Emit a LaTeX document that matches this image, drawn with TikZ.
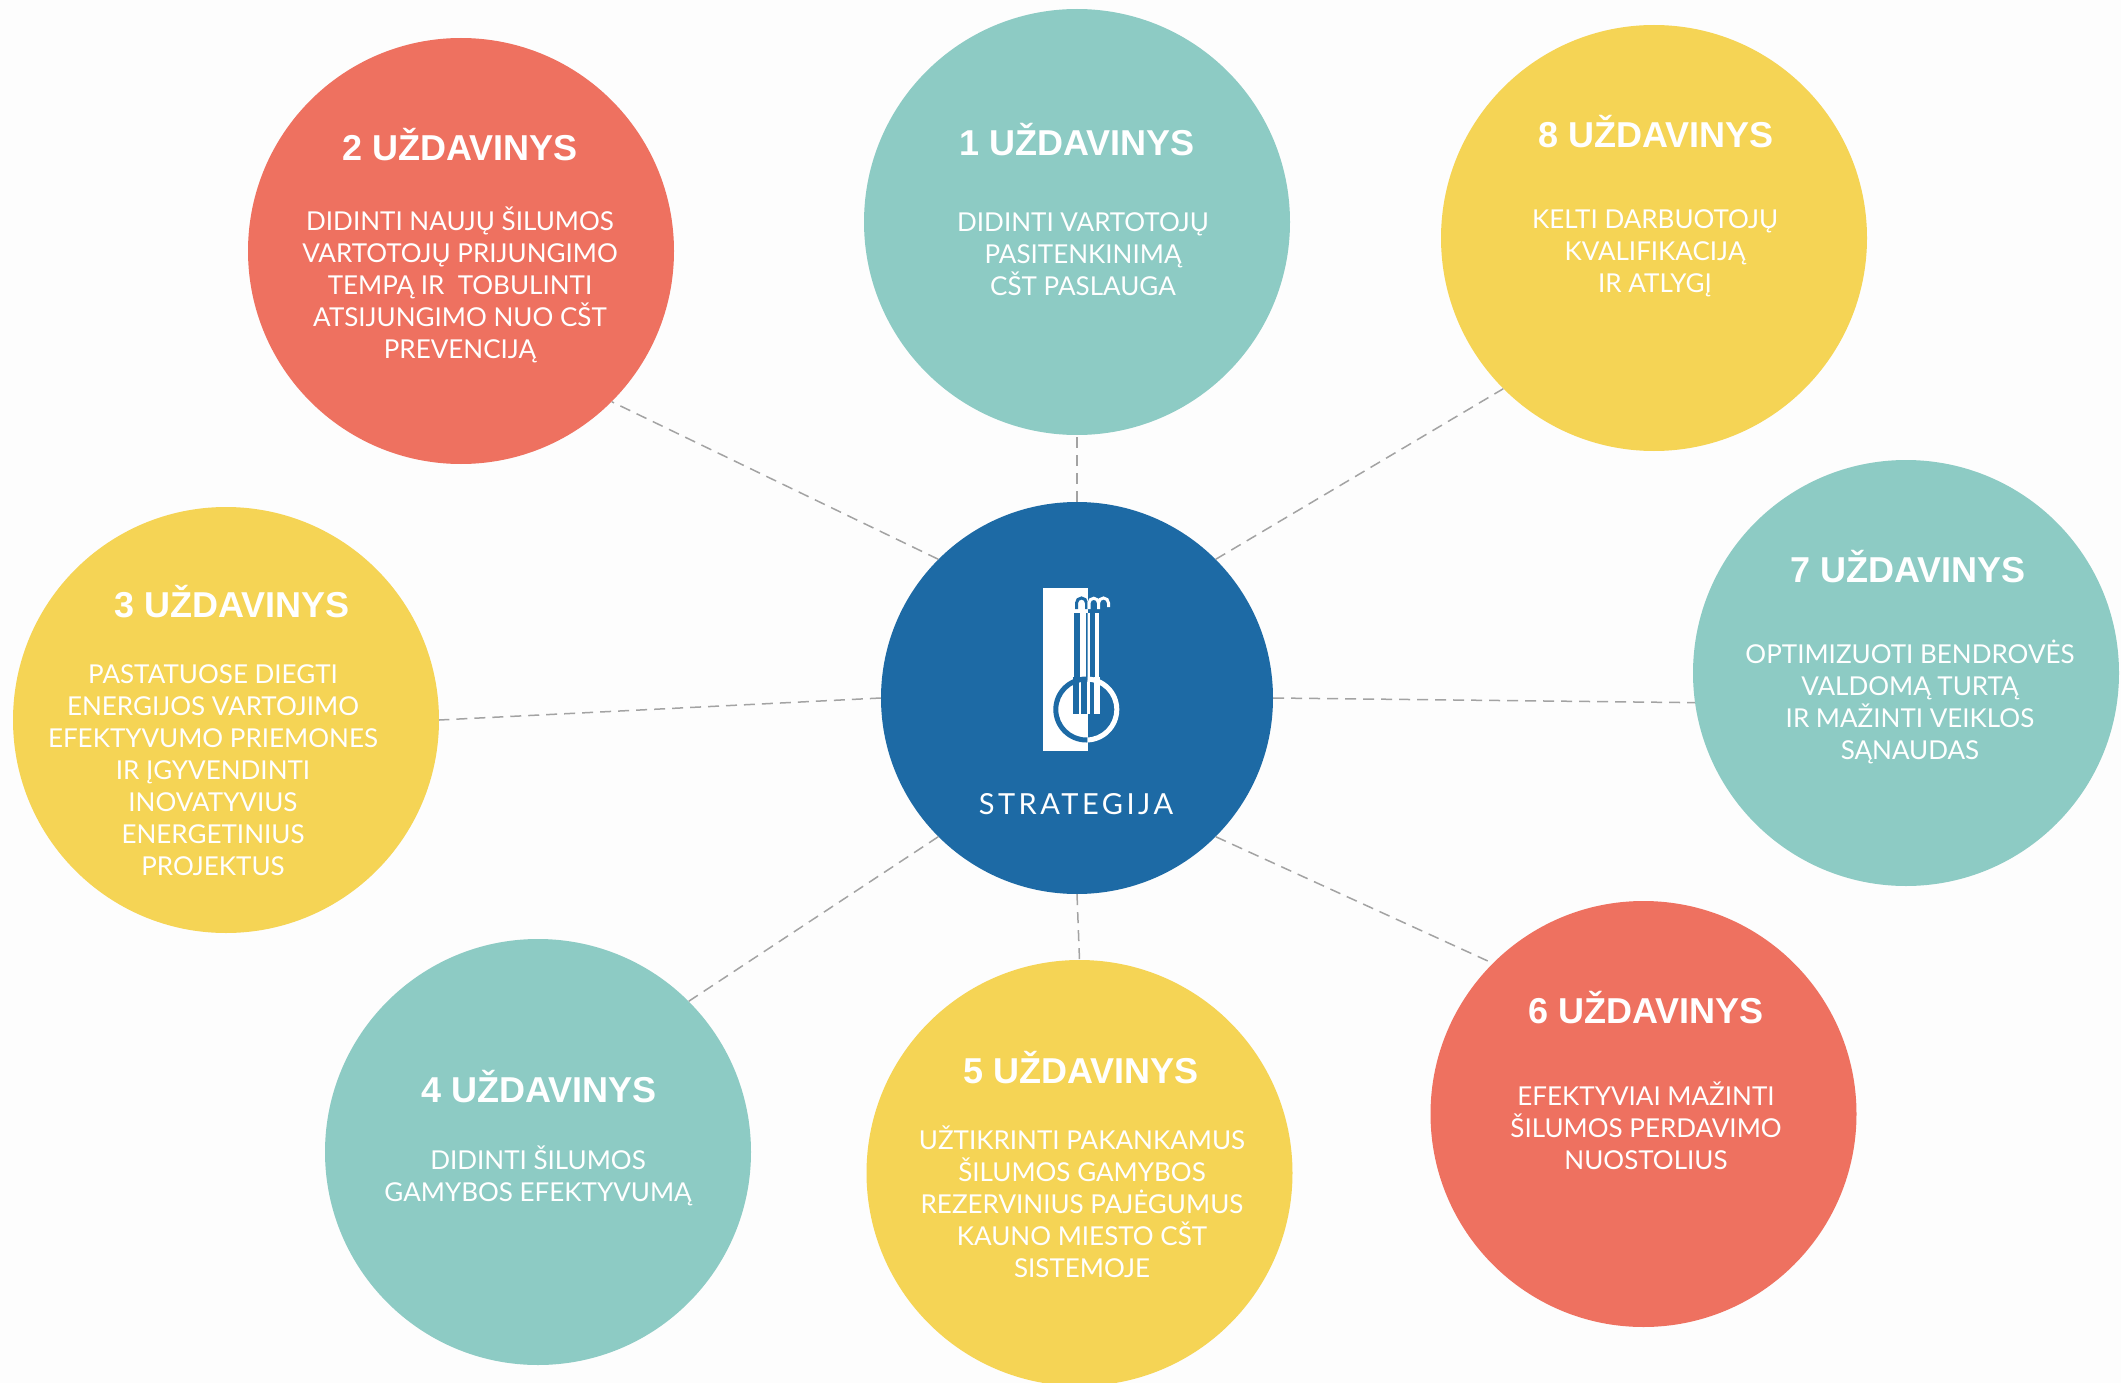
\documentclass[tikz,border=0pt]{standalone}
\usepackage{fontspec}
\setmainfont{Lato}
\newfontfamily\titlefont{Liberation Sans}
\definecolor{teal}{HTML}{8DCBC4}
\definecolor{coral}{HTML}{EE7160}
\definecolor{sun}{HTML}{F5D455}
\definecolor{hubblue}{HTML}{1D6AA5}
\definecolor{dashgray}{HTML}{A3A3A3}
\definecolor{bgpaper}{HTML}{FDFDFD}
\tikzset{
  sat/.style={circle,inner sep=0pt,minimum size=426pt},
  hubc/.style={circle,inner sep=0pt,minimum size=392pt,fill=hubblue},
  head/.style={text=white,font=\titlefont\bfseries\fontsize{36}{40}\selectfont,inner sep=0pt},
  body/.style={text=white,font=\fontsize{26}{32}\selectfont,align=center,inner sep=0pt},
  link/.style={draw=dashgray,line width=1.5pt,dash pattern=on 11pt off 7pt},
  bluestroke/.style={draw=hubblue,line width=3pt},
  whitestroke/.style={draw=white,line width=3pt},
}
\begin{document}
\begin{tikzpicture}[x=1pt,y=-1pt]
\useasboundingbox[fill=bgpaper] (0,0) rectangle (2121,1383);
\node[hubc] (hub) at (1077,698) {};
\node[sat,fill=coral] (c2) at (461,251) {};
\node[sat,fill=teal] (c1) at (1077,222) {};
\node[sat,fill=sun] (c8) at (1654,238) {};
\node[sat,fill=teal] (c7) at (1906,673) {};
\node[sat,fill=coral] (c6) at (1643.5,1114) {};
\node[sat,fill=sun] (c5) at (1079.5,1173) {};
\node[sat,fill=teal] (c4) at (538,1152) {};
\node[sat,fill=sun] (c3) at (226,720) {};
\draw[link] (hub.135) -- (c2.-45);
\draw[link] (hub.90) -- (c1.-90);
\draw[link] (hub.45) -- (c8.225);
\draw[link] (hub.0) -- (c7.188);
\draw[link] (hub.-45) -- (c6.135);
\draw[link] (hub.-90) -- (c5.90);
\draw[link] (hub.225) -- (c4.45);
\draw[link] (hub.180) -- (c3.0);
\node[head] (t2) at (460,145) {2 UŽDAVINYS};
\node[head] (t1) at (1077,140) {1 UŽDAVINYS};
\node[head] (t8) at (1656,132) {8 UŽDAVINYS};
\node[head] (t7) at (1908,567) {7 UŽDAVINYS};
\node[head] (t6) at (1646,1008) {6 UŽDAVINYS};
\node[head] (t5) at (1081,1068) {5 UŽDAVINYS};
\node[head] (t4) at (539,1087) {4 UŽDAVINYS};
\node[head] (t3) at (232,602) {3 UŽDAVINYS};
\node[body] (b2) at (460,285) {DIDINTI NAUJŲ ŠILUMOS\\VARTOTOJŲ PRIJUNGIMO\\TEMPĄ IR~~TOBULINTI\\ATSIJUNGIMO NUO CŠT\\PREVENCIJĄ};
\node[body] (b1) at (1083,254) {DIDINTI VARTOTOJŲ\\PASITENKINIMĄ\\CŠT PASLAUGA};
\node[body] (b8) at (1655,253) {KELTI DARBUOTOJŲ\\KVALIFIKACIJĄ\\IR ATLYGĮ};
\node[body] (b7) at (1910,702) {OPTIMIZUOTI BENDROVĖS\\VALDOMĄ TURTĄ\\IR MAŽINTI VEIKLOS\\SĄNAUDAS};
\node[body] (b6) at (1646,1125.5) {EFEKTYVIAI MAŽINTI\\ŠILUMOS PERDAVIMO\\NUOSTOLIUS};
\node[body] (b5) at (1082,1201.5) {UŽTIKRINTI PAKANKAMUS\\ŠILUMOS GAMYBOS\\REZERVINIUS PAJĖGUMUS\\KAUNO MIESTO CŠT\\SISTEMOJE};
\node[body] (b4) at (538,1176) {DIDINTI ŠILUMOS\\GAMYBOS EFEKTYVUMĄ};
\node[body] (b3) at (213,770) {PASTATUOSE DIEGTI\\ENERGIJOS VARTOJIMO\\EFEKTYVUMO PRIEMONES\\IR ĮGYVENDINTI\\INOVATYVIUS\\ENERGETINIUS\\PROJEKTUS};
\node[text=white,font=\fontsize{29}{32}\selectfont\addfontfeature{LetterSpace=12},inner sep=0pt] (lbl) at (1076,804) {STRATEGIJA};
% logo
\fill[white] (1043,588) rectangle (1087.5,751);
\begin{scope}
\clip (1043,588) rectangle (1087.5,751);
\fill[hubblue,even odd rule] (1086.3,709.5) circle (33) (1086.3,709.5) circle (28);
\fill[hubblue] (1074,613) rectangle (1079.5,680);
\fill[hubblue] (1085.5,613) rectangle (1088,680);
\fill[hubblue] (1073,677) rectangle (1079,714);
\fill[hubblue] (1081,677) rectangle (1087,714);
\draw[bluestroke] (1076.5,609) -- (1076.5,603) arc (180:360:5) -- (1086.5,609);
\end{scope}
\begin{scope}
\clip (1087.5,588) rectangle (1130,751);
\fill[white,even odd rule] (1086.3,709.5) circle (33) (1086.3,709.5) circle (28);
\fill[white] (1088,613) rectangle (1090,680);
\fill[white] (1095,613) rectangle (1099,680);
\fill[white] (1088,677) rectangle (1089.5,714);
\fill[white] (1094,677) rectangle (1100,714);
\draw[whitestroke] (1089,609) -- (1089,603) arc (180:360:4.75) -- (1098.5,609);
\draw[whitestroke] (1098.5,603) arc (180:360:5) -- (1108.5,607);
\end{scope}
\end{tikzpicture}
\end{document}
